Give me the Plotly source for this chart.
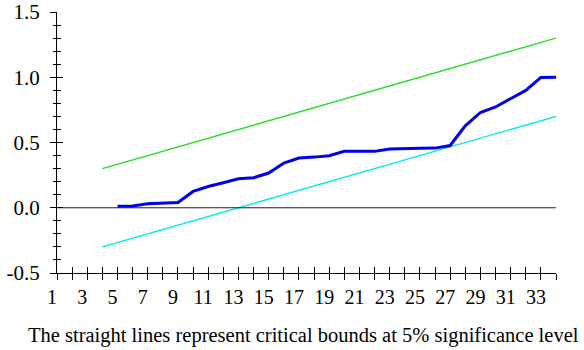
import plotly.graph_objects as go

obs = list(range(5, 35))
cusumsq = [0.012, 0.013, 0.031, 0.036, 0.040, 0.125, 0.163, 0.192, 0.222, 0.230,
           0.266, 0.342, 0.381, 0.388, 0.398, 0.432, 0.432, 0.432, 0.450, 0.450,
           0.455, 0.457, 0.477, 0.628, 0.730, 0.772, 0.833, 0.899, 0.999, 1.000]

# Critical bounds (straight lines): endpoints
bound_x = [4, 34]
upper_bound = [0.30, 1.30]
lower_bound = [-0.30, 0.70]

# Zero reference line
zero_x = [1, 34]
zero_y = [0.0, 0.0]

# Axis ticks
x_tickvals = list(range(1, 35))
x_ticktext = [str(v) if v % 2 == 1 else "" for v in x_tickvals]
y_tickvals = [-0.5, 0.0, 0.5, 1.0, 1.5]
y_ticktext = ["-0.5", "0.0", "0.5", "1.0", "1.5"]

caption = "The straight lines represent critical bounds at 5% significance level"

FONT = "Liberation Serif"

fig = go.Figure()
fig.add_trace(go.Scatter(x=zero_x, y=zero_y, mode="lines",
                         line=dict(color="#222222", width=1),
                         xaxis="x2", yaxis="y2", hoverinfo="skip", showlegend=False))
fig.add_trace(go.Scatter(x=bound_x, y=upper_bound, mode="lines",
                         line=dict(color="#22e022", width=1.4), showlegend=False))
fig.add_trace(go.Scatter(x=bound_x, y=lower_bound, mode="lines",
                         line=dict(color="#00eaea", width=1.4), showlegend=False))
fig.add_trace(go.Scatter(x=obs, y=cusumsq, mode="lines",
                         line=dict(color="#0000ee", width=3), showlegend=False))

xr = [1, 34]
yr = [-0.5, 1.5]

fig.update_layout(
    width=584, height=350,
    margin=dict(l=57, r=28, t=12, b=77, autoexpand=False),
    paper_bgcolor="white", plot_bgcolor="white",
    font=dict(family=FONT, color="black", size=19),
    xaxis=dict(range=xr, tickmode="array", tickvals=x_tickvals, ticktext=x_ticktext,
               ticks="outside", ticklen=6, tickcolor="black", tickwidth=1,
               showline=True, linecolor="black", linewidth=1, automargin=False,
               showgrid=False, zeroline=False, ticklabelshift=-5,
               tickfont=dict(family=FONT, size=20, color="black")),
    xaxis2=dict(range=xr, overlaying="x", anchor="y", side="bottom",
                tickmode="array", tickvals=x_tickvals, automargin=False,
                ticks="inside", ticklen=6, tickcolor="black", tickwidth=1,
                showticklabels=False, showline=False, showgrid=False, zeroline=False),
    yaxis=dict(range=yr, tickmode="array", tickvals=y_tickvals, ticktext=y_ticktext,
               ticks="outside", ticklen=6, tickcolor="black", tickwidth=1,
               minor=dict(dtick=0.1, tick0=-0.5, ticks="outside", ticklen=3.5,
                          tickcolor="black", tickwidth=1, showgrid=False),
               showline=True, linecolor="black", linewidth=1, automargin=False,
               showgrid=False, zeroline=False, ticklabelstandoff=6,
               tickfont=dict(family=FONT, size=21, color="black")),
    yaxis2=dict(range=yr, overlaying="y", anchor="x", side="left", automargin=False,
                tickmode="array", tickvals=y_tickvals,
                ticks="inside", ticklen=6, tickcolor="black", tickwidth=1,
                minor=dict(dtick=0.1, tick0=-0.5, ticks="inside", ticklen=3.5,
                           tickcolor="black", tickwidth=1, showgrid=False),
                showticklabels=False, showline=False, showgrid=False, zeroline=False),
    annotations=[dict(text=caption, xref="paper", yref="paper",
                      x=0.494, y=-0.24, xanchor="center", yanchor="middle",
                      showarrow=False, font=dict(family=FONT, size=20.5, color="black"))],
)

fig.write_html("out.html")
